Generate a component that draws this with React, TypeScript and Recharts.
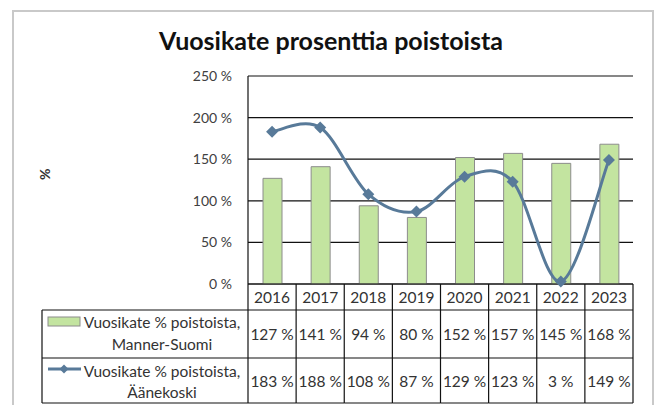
import { ComposedChart, Bar, Line, XAxis, YAxis, CartesianGrid } from 'recharts'

const years = ['2016', '2017', '2018', '2019', '2020', '2021', '2022', '2023']
const mannerSuomi = [127, 141, 94, 80, 152, 157, 145, 168]
const aanekoski = [183, 188, 108, 87, 129, 123, 3, 149]
const yTicks = [0, 50, 100, 150, 200, 250]

const seriesLabel = 'Vuosikate % poistoista,'
const mannerName = 'Manner-Suomi'
const aanekoskiName = 'Äänekoski'

const data = years.map((year, i) => ({
  year,
  manner: mannerSuomi[i],
  aanekoski: aanekoski[i],
}))

const GREEN = '#c3e4a0'
const BAR_EDGE = '#8c8c8c'
const BLUE = '#587a99'
const TEXT = '#333'
const FONT = 'Lato, sans-serif'

const W = 659
const H = 405
const PLOT_LEFT = 248
const PLOT_RIGHT = 633
const PLOT_TOP = 76
const TABLE_H = 121
const BAND = (PLOT_RIGHT - PLOT_LEFT) / years.length
const ROW1 = 26
const ROW2 = 48
const LEGEND_W = 206

// smoothed line like Excel's (Catmull-Rom as cubic beziers)
const excelCurve = (context: any) => {
  let pts: number[][] = []
  return {
    areaStart() {},
    areaEnd() {},
    lineStart() {
      pts = []
    },
    point(x: number, y: number) {
      pts.push([+x, +y])
    },
    lineEnd() {
      if (!pts.length) return
      context.moveTo(pts[0][0], pts[0][1])
      for (let i = 0; i < pts.length - 1; i++) {
        const p0 = pts[i - 1] || pts[i]
        const p1 = pts[i]
        const p2 = pts[i + 1]
        const p3 = pts[i + 2] || p2
        context.bezierCurveTo(
          p1[0] + (p2[0] - p0[0]) / 6,
          p1[1] + (p2[1] - p0[1]) / 6,
          p2[0] - (p3[0] - p1[0]) / 6,
          p2[1] - (p3[1] - p1[1]) / 6,
          p2[0],
          p2[1]
        )
      }
    },
  }
}

function Diamond({ cx, cy, r = 6 }: { cx: number; cy: number; r?: number }) {
  return <path d={`M${cx},${cy - r}L${cx + r},${cy}L${cx},${cy + r}L${cx - r},${cy}Z`} fill={BLUE} />
}

function TableTick(props: any) {
  const { x, y, payload, index } = props
  const i = payload?.index ?? index
  const left = x - BAND / 2
  const right = x + BAND / 2
  const r1 = y + ROW1
  const r2 = r1 + ROW2
  const bottom = y + TABLE_H - 2
  const lineProps = { stroke: '#111', strokeWidth: 1.2 }
  const textProps = { fontFamily: FONT, fontSize: 15.5, fill: TEXT, textAnchor: 'middle' as const, dominantBaseline: 'central' as const }
  const lx = left - LEGEND_W
  const labelX = lx + 120
  return (
    <g>
      <line x1={right} y1={y} x2={right} y2={bottom} {...lineProps} />
      <line x1={left} y1={r1} x2={right} y2={r1} {...lineProps} />
      <line x1={left} y1={r2} x2={right} y2={r2} {...lineProps} />
      <line x1={left} y1={bottom} x2={right} y2={bottom} {...lineProps} />
      <text x={x} y={(y + r1) / 2} {...textProps}>{payload.value}</text>
      <text x={x} y={(r1 + r2) / 2} {...textProps}>{`${mannerSuomi[i]} %`}</text>
      <text x={x} y={(r2 + bottom) / 2} {...textProps}>{`${aanekoski[i]} %`}</text>
      {i === 0 && (
        <g>
          <line x1={left} y1={y} x2={left} y2={bottom} {...lineProps} />
          <line x1={lx} y1={r1} x2={left} y2={r1} {...lineProps} />
          <line x1={lx} y1={r2} x2={left} y2={r2} {...lineProps} />
          <line x1={lx} y1={bottom} x2={left} y2={bottom} {...lineProps} />
          <line x1={lx} y1={r1} x2={lx} y2={bottom} {...lineProps} />
          <rect x={lx + 6} y={r1 + 7} width={32} height={9} fill={GREEN} stroke={BAR_EDGE} />
          <text x={labelX} y={r1 + 12} {...textProps}>{seriesLabel}</text>
          <text x={labelX} y={r1 + 34} {...textProps}>{mannerName}</text>
          <line x1={lx + 6} y1={r2 + 11} x2={lx + 39} y2={r2 + 11} stroke={BLUE} strokeWidth={3} />
          <Diamond cx={lx + 22} cy={r2 + 11} r={4.5} />
          <text x={labelX} y={r2 + 13} {...textProps}>{seriesLabel}</text>
          <text x={labelX} y={r2 + 34} {...textProps}>{aanekoskiName}</text>
        </g>
      )}
    </g>
  )
}

export default function App() {
  return (
    <div style={{ position: 'absolute', left: 0, top: 0, width: W, height: H, background: '#fff', overflow: 'hidden' }}>
      <div
        style={{
          position: 'absolute',
          left: 12,
          top: 10,
          width: 638,
          height: 420,
          border: '2px solid #c9c9c9',
        }}
      />
      <div
        style={{
          position: 'absolute',
          left: 0,
          width: 662,
          top: 25,
          textAlign: 'center',
          fontFamily: FONT,
          fontWeight: 700,
          fontSize: 25,
          color: '#111',
        }}
      >
        Vuosikate prosenttia poistoista
      </div>
      <div style={{ position: 'absolute', left: 0, top: 0 }}>
        <ComposedChart
          width={W}
          height={H}
          data={data}
          margin={{ top: PLOT_TOP, right: W - PLOT_RIGHT, bottom: 0, left: 48 }}
          barCategoryGap={0}
        >
          <CartesianGrid vertical={false} stroke="#111" strokeWidth={1.2} />
          <XAxis
            dataKey="year"
            height={TABLE_H}
            axisLine={{ stroke: '#111', strokeWidth: 1.2 }}
            tickLine={false}
            tickSize={0}
            tickMargin={0}
            interval={0}
            tick={<TableTick />}
          />
          <YAxis
            width={PLOT_LEFT - 48}
            domain={[0, 250]}
            ticks={yTicks}
            tickFormatter={(v: number) => `${v} %`}
            axisLine={{ stroke: '#111', strokeWidth: 1.2 }}
            tickLine={false}
            tickSize={0}
            tickMargin={16}
            tick={{ fontFamily: FONT, fontSize: 14, fill: '#404040' }}
            label={{ value: '%', angle: -90, position: 'insideLeft', offset: -3, style: { fontFamily: FONT, fontSize: 14, fontWeight: 700, fill: '#333' } }}
          />
          <Bar dataKey="manner" barSize={19} fill={GREEN} stroke={BAR_EDGE} strokeWidth={1} isAnimationActive={false} />
          <Line
            dataKey="aanekoski"
            type={excelCurve as any}
            stroke={BLUE}
            strokeWidth={3}
            dot={(p: any) => <Diamond key={p.index} cx={p.cx} cy={p.cy} />}
            activeDot={false}
            isAnimationActive={false}
          />
        </ComposedChart>
      </div>
    </div>
  )
}
